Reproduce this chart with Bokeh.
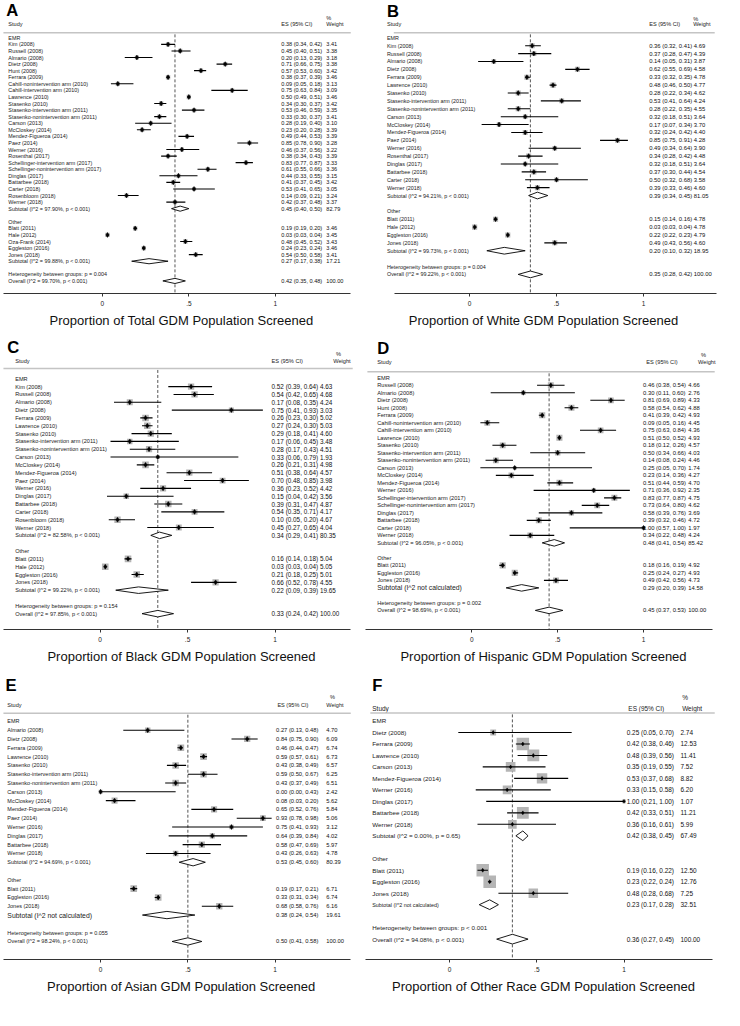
import math
from bokeh.plotting import figure
from bokeh.models import Range1d, FixedTicker
from bokeh.layouts import gridplot
from bokeh.embed import file_html
from bokeh.resources import INLINE
from bokeh.core.properties import value

FONT = "Liberation Sans"
GROUPS = ["EMR", "Other"]

# ---------------- Panel A: Total ----------------
A_STUDY = ["Kim (2008)", "Russell (2008)", "Almario (2008)", "Dietz (2008)", "Hunt (2008)", "Ferrara (2009)",
           "Cahill-nonintervention arm (2010)", "Cahill-intervention arm (2010)", "Lawrence (2010)",
           "Stasenko (2010)", "Stasenko-intervention arm (2011)", "Stasenko-nonintervention arm (2011)",
           "Carson (2013)", "McCloskey (2014)", "Mendez-Figueroa (2014)", "Paez (2014)", "Werner (2016)",
           "Rosenthal (2017)", "Schellinger-intervention arm (2017)", "Schellinger-nonintervention arm (2017)",
           "Dinglas (2017)", "Battarbee (2018)", "Carter (2018)", "Rosenbloom (2018)", "Werner (2018)",
           "Blatt (2011)", "Hale (2012)", "Oza-Frank (2014)", "Eggleston (2016)", "Jones (2018)"]
A_GROUP = ["EMR"] * 25 + ["Other"] * 5
A_ES = [0.38, 0.45, 0.20, 0.71, 0.57, 0.38, 0.09, 0.75, 0.50, 0.34, 0.53, 0.33, 0.28, 0.23, 0.49, 0.85, 0.46,
        0.38, 0.83, 0.61, 0.44, 0.41, 0.53, 0.14, 0.42, 0.19, 0.03, 0.48, 0.24, 0.54]
A_LO = [0.34, 0.40, 0.13, 0.66, 0.53, 0.37, 0.05, 0.63, 0.49, 0.30, 0.46, 0.30, 0.19, 0.20, 0.44, 0.78, 0.37,
        0.34, 0.77, 0.55, 0.33, 0.37, 0.41, 0.09, 0.37, 0.19, 0.03, 0.45, 0.23, 0.50]
A_HI = [0.42, 0.51, 0.29, 0.75, 0.60, 0.39, 0.18, 0.84, 0.51, 0.37, 0.59, 0.37, 0.40, 0.28, 0.53, 0.90, 0.56,
        0.43, 0.87, 0.66, 0.55, 0.45, 0.65, 0.21, 0.48, 0.20, 0.04, 0.52, 0.24, 0.58]
A_W = [3.41, 3.38, 3.18, 3.38, 3.42, 3.46, 3.13, 3.09, 3.46, 3.42, 3.35, 3.41, 3.10, 3.39, 3.39, 3.28, 3.22,
       3.39, 3.33, 3.36, 3.15, 3.42, 3.05, 3.24, 3.37, 3.46, 3.45, 3.43, 3.46, 3.41]
A_SUB_LABEL = ["Subtotal  (I^2 = 97.90%, p < 0.001)", "Subtotal  (I^2 = 99.88%, p < 0.001)"]
A_SUB_ES = [0.45, 0.27]
A_SUB_LO = [0.40, 0.17]
A_SUB_HI = [0.50, 0.38]
A_SUB_W = [82.79, 17.21]
A_OVERALL = [0.42, 0.35, 0.48]
A_OVERALL_LABEL = "Overall  (I^2 = 99.70%, p < 0.001)"
A_HET = "Heterogeneity between groups: p = 0.004"
A_TITLE = "Proportion of Total GDM Population Screened"

# ---------------- Panel B: White ----------------
B_STUDY = ["Kim (2008)", "Russell (2008)", "Almario (2008)", "Dietz (2008)", "Ferrara (2009)", "Lawrence (2010)",
           "Stasenko (2010)", "Stasenko-intervention arm (2011)", "Stasenko-nonintervention arm (2011)",
           "Carson (2013)", "McCloskey (2014)", "Mendez-Figueroa (2014)", "Paez (2014)", "Werner (2016)",
           "Rosenthal (2017)", "Dinglas (2017)", "Battarbee (2018)", "Carter (2018)", "Werner (2018)",
           "Blatt (2011)", "Hale (2012)", "Eggleston (2016)", "Jones (2018)"]
B_GROUP = ["EMR"] * 19 + ["Other"] * 4
B_ES = [0.36, 0.37, 0.14, 0.62, 0.33, 0.48, 0.28, 0.53, 0.28, 0.32, 0.17, 0.32, 0.85, 0.49, 0.34, 0.32, 0.37,
        0.50, 0.39, 0.15, 0.03, 0.22, 0.49]
B_LO = [0.32, 0.28, 0.05, 0.55, 0.32, 0.46, 0.22, 0.41, 0.22, 0.18, 0.07, 0.24, 0.75, 0.34, 0.28, 0.18, 0.30,
        0.32, 0.33, 0.14, 0.03, 0.22, 0.43]
B_HI = [0.41, 0.47, 0.31, 0.69, 0.35, 0.50, 0.34, 0.64, 0.35, 0.51, 0.34, 0.42, 0.91, 0.64, 0.42, 0.51, 0.44,
        0.68, 0.46, 0.16, 0.04, 0.23, 0.56]
B_W = [4.69, 4.39, 3.87, 4.58, 4.78, 4.77, 4.62, 4.24, 4.55, 3.64, 3.70, 4.40, 4.28, 3.90, 4.48, 3.64, 4.54,
       3.58, 4.60, 4.78, 4.78, 4.79, 4.60]
B_SUB_LABEL = ["Subtotal  (I^2 = 94.21%, p < 0.001)", "Subtotal  (I^2 = 99.73%, p < 0.001)"]
B_SUB_ES = [0.39, 0.20]
B_SUB_LO = [0.34, 0.10]
B_SUB_HI = [0.45, 0.32]
B_SUB_W = [81.05, 18.95]
B_OVERALL = [0.35, 0.28, 0.42]
B_OVERALL_LABEL = "Overall  (I^2 = 99.22%, p < 0.001)"
B_HET = "Heterogeneity between groups: p = 0.004"
B_TITLE = "Proportion of White GDM Population Screened"

# ---------------- Panel C: Black ----------------
C_STUDY = ["Kim (2008)", "Russell (2008)", "Almario (2008)", "Dietz (2008)", "Ferrara (2009)", "Lawrence (2010)",
           "Stasenko (2010)", "Stasenko-intervention arm (2011)", "Stasenko-nonintervention arm (2011)",
           "Carson (2013)", "McCloskey (2014)", "Mendez-Figueroa (2014)", "Paez (2014)", "Werner (2016)",
           "Dinglas (2017)", "Battarbee (2018)", "Carter (2018)", "Rosenbloom (2018)", "Werner (2018)",
           "Blatt (2011)", "Hale (2012)", "Eggleston (2016)", "Jones (2018)"]
C_GROUP = ["EMR"] * 19 + ["Other"] * 4
C_ES = [0.52, 0.54, 0.17, 0.75, 0.26, 0.27, 0.29, 0.17, 0.28, 0.33, 0.26, 0.51, 0.70, 0.36, 0.15, 0.39, 0.54,
        0.10, 0.45, 0.16, 0.03, 0.21, 0.66]
C_LO = [0.39, 0.42, 0.08, 0.41, 0.23, 0.24, 0.18, 0.06, 0.17, 0.06, 0.21, 0.38, 0.48, 0.23, 0.04, 0.31, 0.35,
        0.05, 0.27, 0.14, 0.03, 0.18, 0.52]
C_HI = [0.64, 0.65, 0.35, 0.93, 0.30, 0.30, 0.41, 0.45, 0.43, 0.79, 0.31, 0.64, 0.85, 0.52, 0.42, 0.47, 0.71,
        0.20, 0.65, 0.18, 0.04, 0.25, 0.78]
C_W = [4.63, 4.68, 4.24, 3.03, 5.02, 5.03, 4.60, 3.48, 4.51, 1.93, 4.98, 4.57, 3.98, 4.42, 3.56, 4.87, 4.17,
       4.67, 4.04, 5.04, 5.05, 5.01, 4.55]
C_SUB_LABEL = ["Subtotal  (I^2 = 82.58%, p < 0.001)", "Subtotal  (I^2 = 99.22%, p < 0.001)"]
C_SUB_ES = [0.34, 0.22]
C_SUB_LO = [0.29, 0.09]
C_SUB_HI = [0.41, 0.39]
C_SUB_W = [80.35, 19.65]
C_OVERALL = [0.33, 0.24, 0.42]
C_OVERALL_LABEL = "Overall  (I^2 = 97.85%, p < 0.001)"
C_HET = "Heterogeneity between groups: p = 0.154"
C_TITLE = "Proportion of Black GDM Population Screened"

# ---------------- Panel D: Hispanic ----------------
D_STUDY = ["Russell (2008)", "Almario (2008)", "Dietz (2008)", "Hunt (2008)", "Ferrara (2009)",
           "Cahill-nonintervention arm (2010)", "Cahill-intervention arm (2010)", "Lawrence (2010)",
           "Stasenko (2010)", "Stasenko-intervention arm (2011)", "Stasenko-nonintervention arm (2011)",
           "Carson (2013)", "McCloskey (2014)", "Mendez-Figueroa (2014)", "Werner (2016)",
           "Schellinger-intervention arm (2017)", "Schellinger-nonintervention arm (2017)", "Dinglas (2017)",
           "Battarbee (2018)", "Carter (2018)", "Werner (2018)",
           "Blatt (2011)", "Eggleston (2016)", "Jones (2018)"]
D_GROUP = ["EMR"] * 21 + ["Other"] * 3
D_ES = [0.46, 0.30, 0.81, 0.58, 0.41, 0.09, 0.75, 0.51, 0.18, 0.50, 0.14, 0.25, 0.23, 0.51, 0.71, 0.83, 0.73,
        0.58, 0.39, 1.00, 0.34, 0.18, 0.25, 0.49]
D_LO = [0.38, 0.11, 0.69, 0.54, 0.39, 0.05, 0.63, 0.50, 0.12, 0.34, 0.08, 0.05, 0.14, 0.44, 0.36, 0.77, 0.64,
        0.39, 0.32, 0.57, 0.22, 0.16, 0.24, 0.42]
D_HI = [0.54, 0.60, 0.89, 0.62, 0.42, 0.16, 0.84, 0.52, 0.26, 0.66, 0.24, 0.70, 0.36, 0.59, 0.92, 0.87, 0.80,
        0.76, 0.46, 1.00, 0.48, 0.19, 0.27, 0.56]
D_W = [4.66, 2.76, 4.33, 4.88, 4.93, 4.45, 4.36, 4.93, 4.57, 4.03, 4.46, 1.74, 4.27, 4.70, 2.35, 4.75, 4.62,
       3.69, 4.72, 1.97, 4.24, 4.92, 4.93, 4.73]
D_SUB_LABEL = ["Subtotal  (I^2 = 96.05%, p < 0.001)", "Subtotal (I^2 not calculated)"]
D_SUB_ES = [0.48, 0.29]
D_SUB_LO = [0.41, 0.20]
D_SUB_HI = [0.54, 0.39]
D_SUB_W = [85.42, 14.58]
D_OVERALL = [0.45, 0.37, 0.53]
D_OVERALL_LABEL = "Overall  (I^2 = 98.69%, p < 0.001)"
D_HET = "Heterogeneity between groups: p = 0.002"
D_TITLE = "Proportion of Hispanic GDM Population Screened"

# ---------------- Panel E: Asian ----------------
E_STUDY = ["Almario (2008)", "Dietz (2008)", "Ferrara (2009)", "Lawrence (2010)", "Stasenko (2010)",
           "Stasenko-intervention arm (2011)", "Stasenko-nonintervention arm (2011)", "Carson (2013)",
           "McCloskey (2014)", "Mendez-Figueroa (2014)", "Paez (2014)", "Werner (2016)", "Dinglas (2017)",
           "Battarbee (2018)", "Werner (2018)",
           "Blatt (2011)", "Eggleston (2016)", "Jones (2018)"]
E_GROUP = ["EMR"] * 15 + ["Other"] * 3
E_ES = [0.27, 0.84, 0.46, 0.59, 0.43, 0.59, 0.43, 0.00, 0.08, 0.65, 0.93, 0.75, 0.64, 0.58, 0.43, 0.19, 0.33, 0.68]
E_LO = [0.13, 0.75, 0.44, 0.57, 0.38, 0.50, 0.37, 0.00, 0.03, 0.52, 0.78, 0.41, 0.39, 0.47, 0.26, 0.17, 0.31, 0.58]
E_HI = [0.48, 0.90, 0.47, 0.61, 0.49, 0.67, 0.49, 0.43, 0.20, 0.76, 0.98, 0.93, 0.84, 0.69, 0.63, 0.21, 0.34, 0.76]
E_W = [4.70, 6.09, 6.74, 6.73, 6.57, 6.25, 6.51, 2.42, 5.62, 5.84, 5.06, 3.12, 4.02, 5.97, 4.78, 6.71, 6.74, 6.16]
E_SUB_LABEL = ["Subtotal  (I^2 = 94.69%, p < 0.001)", "Subtotal (I^2 not calculated)"]
E_SUB_ES = [0.53, 0.38]
E_SUB_LO = [0.45, 0.24]
E_SUB_HI = [0.60, 0.54]
E_SUB_W = [80.39, 19.61]
E_OVERALL = [0.50, 0.41, 0.58]
E_OVERALL_LABEL = "Overall  (I^2 = 98.24%, p < 0.001)"
E_HET = "Heterogeneity between groups: p = 0.055"
E_TITLE = "Proportion of Asian GDM Population Screened"

# ---------------- Panel F: Other race ----------------
F_STUDY = ["Dietz (2008)", "Ferrara (2009)", "Lawrence (2010)", "Carson (2013)", "Mendez-Figueroa (2014)",
           "Werner (2016)", "Dinglas (2017)", "Battarbee (2018)", "Werner (2018)",
           "Blatt (2011)", "Eggleston (2016)", "Jones (2018)"]
F_GROUP = ["EMR"] * 9 + ["Other"] * 3
F_ES = [0.25, 0.42, 0.48, 0.35, 0.53, 0.33, 1.00, 0.42, 0.36, 0.19, 0.23, 0.48]
F_LO = [0.05, 0.38, 0.39, 0.19, 0.37, 0.15, 0.21, 0.33, 0.16, 0.16, 0.22, 0.28]
F_HI = [0.70, 0.46, 0.56, 0.55, 0.68, 0.58, 1.00, 0.51, 0.61, 0.22, 0.24, 0.68]
F_W = [2.74, 12.53, 11.41, 7.52, 8.82, 6.20, 1.07, 11.21, 5.99, 12.50, 12.76, 7.25]
F_SUB_LABEL = ["Subtotal  (I^2 = 0.00%, p = 0.65)", "Subtotal (I^2 not calculated)"]
F_SUB_ES = [0.42, 0.23]
F_SUB_LO = [0.38, 0.17]
F_SUB_HI = [0.45, 0.28]
F_SUB_W = [67.49, 32.51]
F_OVERALL = [0.36, 0.27, 0.45]
F_OVERALL_LABEL = "Overall  (I^2 = 94.08%, p < 0.001)"
F_HET = "Heterogeneity between groups: p < 0.001"
F_TITLE = "Proportion of Other Race GDM Population Screened"

# ---------------- layout (reference pixel geometry per panel) ----------------
W, H = 362, 336
CFG = {
    "A": dict(ref_h=340, letter_x=6, letter_y=10, pct_x=333, pct_y=17.3, head_y=24, rule_y=32.7, rule_x0=3,
              rule_x1=358, row0=37.7, rowN=283.3, axis_y=296, x0=104, x1=281, ax0=3, ax1=358, lab_x=8,
              es_x=287, w_x=333, head_es_x=287, head_w_x=333, fs_lab=5.5, fs_val=5.7, fs_head=5.7,
              fs_nc=5.5, box_k=2.4, pt=5, dh=2.6),
    "B": dict(ref_h=340, letter_x=25, letter_y=11, pct_x=338, pct_y=18.3, head_y=24, rule_y=32.7, rule_x0=32,
              rule_x1=360, row0=37.7, rowN=276.7, axis_y=296, x0=109.3, x1=287.3, ax0=33, ax1=362, lab_x=25,
              es_x=293, w_x=None, head_es_x=293, head_w_x=338, fs_lab=5.5, fs_val=6.0, fs_head=5.7,
              fs_nc=5.5, box_k=2.4, pt=5, dh=3.4),
    "C": dict(ref_h=340, letter_x=7, letter_y=11.5, pct_x=343, pct_y=17.3, head_y=24.3, rule_y=32.3, rule_x0=3,
              rule_x1=360, row0=42.7, rowN=280, axis_y=296, x0=101.7, x1=280.7, ax0=3, ax1=358, lab_x=15,
              es_x=277, w_x=None, head_es_x=277, head_w_x=340, fs_lab=5.7, fs_val=6.5, fs_head=5.8,
              fs_nc=5.7, box_k=3.0, pt=5, dh=3.3),
    "D": dict(ref_h=340, letter_x=15, letter_y=11.7, pct_x=346, pct_y=18.3, head_y=26, rule_y=35.7, rule_x0=5,
              rule_x1=360, row0=41.7, rowN=276.7, axis_y=296, x0=111.7, x1=287.3, ax0=3, ax1=358, lab_x=15,
              es_x=286.7, w_x=333, head_es_x=290, head_w_x=343, fs_lab=5.8, fs_val=6.0, fs_head=5.8,
              fs_nc=7.0, box_k=2.8, pt=5, dh=3.3),
    "E": dict(ref_h=346, letter_x=5, letter_y=14, pct_x=336.7, pct_y=25, head_y=33.3, rule_y=42.3, rule_x0=3,
              rule_x1=358, row0=50.7, rowN=279, axis_y=297.7, x0=102.3, x1=280.7, ax0=3, ax1=358, lab_x=7,
              es_x=281.7, w_x=333, head_es_x=283, head_w_x=333, fs_lab=5.6, fs_val=5.9, fs_head=5.7,
              fs_nc=7.0, box_k=2.6, pt=5, dh=3.8),
    "F": dict(ref_h=346, letter_x=10, letter_y=13, pct_x=326.7, pct_y=26, head_y=36.7, rule_y=41.7, rule_x0=8,
              rule_x1=360, row0=50, rowN=275, axis_y=296, x0=89, x1=267.3, ax0=3, ax1=358, lab_x=10,
              es_x=270, w_x=325, head_es_x=271.7, head_w_x=326.7, fs_lab=6.4, fs_val=6.6, fs_head=6.6,
              fs_nc=5.5, box_k=3.6, pt=4, dh=5.0),
}


def fmt_es(e, l, h):
    return f"{e:.2f} ({l:.2f}, {h:.2f})"


def make_panel(letter, study, group, es, lo, hi, w, sub_label, sub_es, sub_lo, sub_hi, sub_w,
               overall, overall_label, het, title):
    c = CFG[letter]
    ref_w, ref_h = 370.0, c["ref_h"]
    sx, sy = W / ref_w, H / ref_h

    # assign rows
    grp_rows, st_rows, sub_rows = [], [None] * len(study), []
    r = 0
    for g in GROUPS:
        grp_rows.append(r)
        r += 1
        for i, gg in enumerate(group):
            if gg == g:
                st_rows[i] = r
                r += 1
        sub_rows.append(r)
        r += 2
    het_row, ov_row = r, r + 1
    sp = (c["rowN"] - c["row0"]) / ov_row

    def ry(py):
        return (py - c["row0"]) / sp

    def rx(px):
        return (px - c["x0"]) / (c["x1"] - c["x0"])

    p = figure(width=W, height=H, output_backend="svg", toolbar_location=None,
               x_range=Range1d(rx(0), rx(ref_w)), y_range=Range1d(ry(c["axis_y"]), ry(0)),
               min_border_left=0, min_border_right=0, min_border_top=0,
               min_border_bottom=int(round((ref_h - c["axis_y"]) * sy)),
               x_axis_location="below", y_axis_location=None)
    p.outline_line_color = None
    p.grid.visible = False
    p.background_fill_color = "white"

    ax = p.xaxis[0]
    ax.ticker = FixedTicker(ticks=[0, 0.5, 1])
    ax.major_label_overrides = {0: "0", 0.5: ".5", 1: "1"}
    ax.bounds = (rx(c["ax0"]), rx(c["ax1"]))
    ax.axis_line_color = "#333333"
    ax.axis_line_width = 1
    ax.major_tick_line_color = "#333333"
    ax.major_tick_out = 3
    ax.major_tick_in = 0
    ax.minor_tick_out = 0
    ax.minor_tick_in = 0
    ax.major_label_text_font = FONT
    ax.major_label_text_font_size = "6.5px"
    ax.major_label_text_color = "#222222"
    ax.major_label_standoff = 4
    ax.axis_label = title
    ax.axis_label_text_font = FONT
    ax.axis_label_text_font_size = "13px"
    ax.axis_label_text_font_style = "normal"
    ax.axis_label_text_color = "#111111"
    ax.axis_label_standoff = 4

    def txt(xs, ys, ts, size, align="left", color="#222222", style="normal"):
        p.text(x=xs, y=ys, text=ts, text_font=value(FONT), text_font_size=value(f"{size * sx:.2f}px"),
               text_align=align, text_baseline="middle", text_color=color, text_font_style=style)

    # header
    txt([rx(c["letter_x"])], [ry(c["letter_y"])], [letter], 17, color="black", style="bold")
    txt([rx(c["lab_x"])], [ry(c["head_y"])], ["Study"], c["fs_head"])
    txt([rx(c["head_es_x"])], [ry(c["head_y"])], ["ES (95% CI)"], c["fs_head"])
    txt([rx(c["pct_x"])], [ry(c["pct_y"])], ["%"], c["fs_head"])
    txt([rx(c["head_w_x"])], [ry(c["head_y"])], ["Weight"], c["fs_head"])
    p.segment(x0=[rx(c["rule_x0"])], y0=[ry(c["rule_y"])], x1=[rx(c["rule_x1"])], y1=[ry(c["rule_y"])],
              line_color="#c4c4c4", line_width=1.5)

    # dashed overall line
    p.segment(x0=[overall[0]], y0=[ry(c["rule_y"] + 1.5)], x1=[overall[0]], y1=[ry(c["axis_y"])],
              line_color="#555555", line_width=1, line_dash="3 2")

    # study boxes, CIs, points
    p.scatter(x=es, y=st_rows, size=[c["box_k"] * math.sqrt(v) * sx for v in w], marker="square",
              fill_color="#b5b5b5", line_color=None)
    p.segment(x0=lo, y0=st_rows, x1=hi, y1=st_rows, line_color="black", line_width=1.1)
    p.scatter(x=es, y=st_rows, size=c["pt"] * sx, marker="diamond", fill_color="black", line_color="black",
              line_width=0.5)

    # pooled diamonds
    h = c["dh"] / sp
    d_es = list(sub_es) + [overall[0]]
    d_lo = list(sub_lo) + [overall[1]]
    d_hi = list(sub_hi) + [overall[2]]
    d_rows = sub_rows + [ov_row]
    p.patches(xs=[[l, e, u, e] for e, l, u in zip(d_es, d_lo, d_hi)],
              ys=[[rr, rr - h, rr, rr + h] for rr in d_rows],
              fill_color="white", line_color="black", line_width=0.9)

    # left labels
    lx = rx(c["lab_x"])
    txt([lx] * len(GROUPS), grp_rows, GROUPS, c["fs_lab"])
    txt([lx] * len(study), st_rows, study, c["fs_lab"])
    for lab, rr in zip(sub_label, sub_rows):
        size = c["fs_nc"] if "not calculated" in lab else c["fs_lab"]
        txt([lx], [rr], [lab], size)
    txt([lx, lx], [het_row, ov_row], [het, overall_label], c["fs_lab"])

    # value columns
    es_txt = [fmt_es(e, l, u) for e, l, u in zip(es, lo, hi)]
    es_txt += [fmt_es(e, l, u) for e, l, u in zip(d_es, d_lo, d_hi)]
    w_txt = [f"{v:.2f}" for v in w] + [f"{v:.2f}" for v in sub_w] + ["100.00"]
    v_rows = st_rows + d_rows
    ex = rx(c["es_x"])
    if c["w_x"] is None:
        txt([ex] * len(v_rows), v_rows, [a + " " + b for a, b in zip(es_txt, w_txt)], c["fs_val"],
            color="#111111")
    else:
        txt([ex] * len(v_rows), v_rows, es_txt, c["fs_val"], color="#111111")
        txt([rx(c["w_x"])] * len(v_rows), v_rows, w_txt, c["fs_val"], color="#111111")
    return p


pa = make_panel("A", A_STUDY, A_GROUP, A_ES, A_LO, A_HI, A_W, A_SUB_LABEL, A_SUB_ES, A_SUB_LO, A_SUB_HI,
                A_SUB_W, A_OVERALL, A_OVERALL_LABEL, A_HET, A_TITLE)
pb = make_panel("B", B_STUDY, B_GROUP, B_ES, B_LO, B_HI, B_W, B_SUB_LABEL, B_SUB_ES, B_SUB_LO, B_SUB_HI,
                B_SUB_W, B_OVERALL, B_OVERALL_LABEL, B_HET, B_TITLE)
pc = make_panel("C", C_STUDY, C_GROUP, C_ES, C_LO, C_HI, C_W, C_SUB_LABEL, C_SUB_ES, C_SUB_LO, C_SUB_HI,
                C_SUB_W, C_OVERALL, C_OVERALL_LABEL, C_HET, C_TITLE)
pd_ = make_panel("D", D_STUDY, D_GROUP, D_ES, D_LO, D_HI, D_W, D_SUB_LABEL, D_SUB_ES, D_SUB_LO, D_SUB_HI,
                 D_SUB_W, D_OVERALL, D_OVERALL_LABEL, D_HET, D_TITLE)
pe = make_panel("E", E_STUDY, E_GROUP, E_ES, E_LO, E_HI, E_W, E_SUB_LABEL, E_SUB_ES, E_SUB_LO, E_SUB_HI,
                E_SUB_W, E_OVERALL, E_OVERALL_LABEL, E_HET, E_TITLE)
pf = make_panel("F", F_STUDY, F_GROUP, F_ES, F_LO, F_HI, F_W, F_SUB_LABEL, F_SUB_ES, F_SUB_LO, F_SUB_HI,
                F_SUB_W, F_OVERALL, F_OVERALL_LABEL, F_HET, F_TITLE)

grid = gridplot([[pa, pb], [pc, pd_], [pe, pf]], toolbar_location=None)
open("out.html", "w").write(file_html(grid, INLINE))
